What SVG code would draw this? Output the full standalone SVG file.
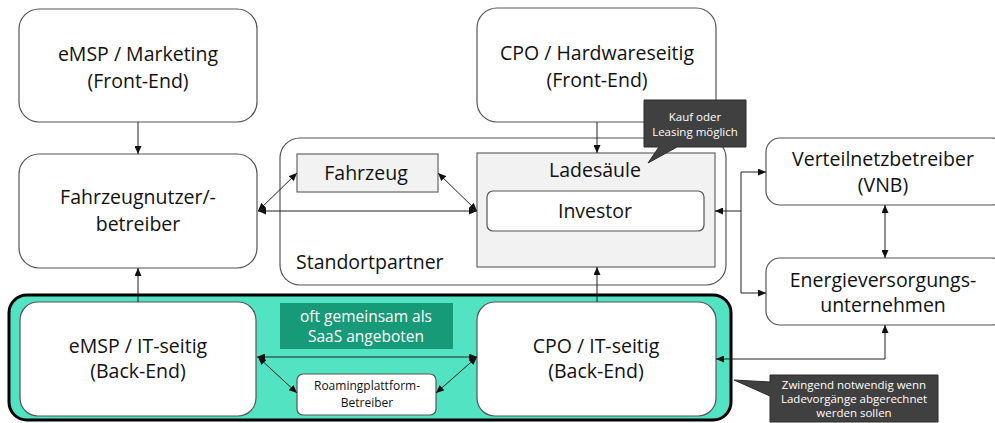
<svg xmlns="http://www.w3.org/2000/svg" width="995" height="423" viewBox="0 0 995 423">
  <style>
    .box { fill: #ffffff; stroke: #555555; stroke-width: 1.2; }
    .grey { fill: #f2f2f2; stroke: #666666; stroke-width: 1.2; }
    .lbl { font-family: "Open Sans", "Noto Sans", sans-serif; font-size: 19.5px; fill: #111111; text-anchor: middle; }
    .inv { font-family: "Open Sans", "Noto Sans", sans-serif; font-size: 15.5px; fill: #ffffff; text-anchor: middle; }
    .roam { font-family: "Open Sans", "Noto Sans", sans-serif; font-size: 12px; fill: #111111; text-anchor: middle; }
    .small { font-family: "Open Sans", "Noto Sans", sans-serif; font-size: 11.5px; fill: #ffffff; text-anchor: middle; }
    .line { fill: none; stroke: #222222; stroke-width: 1; }
    .tip { fill: #404040; stroke: #2a2a2a; stroke-width: 1; }
  </style>
  <defs>
    <marker id="arr" viewBox="0 0 8 7" refX="8" refY="3.5" markerUnits="userSpaceOnUse" markerWidth="8" markerHeight="7" orient="auto-start-reverse">
      <path d="M0,0 L8,3.5 L0,7 z" fill="#111111"/>
    </marker>
  </defs>

  <!-- Standortpartner container -->
  <g id="standortpartner">
    <rect x="280" y="138" width="446" height="147" rx="20" class="box"/>
    <text x="296" y="269" class="lbl" style="text-anchor:start">Standortpartner</text>
  </g>

  <!-- Back-end group -->
  <g id="backend-group">
    <rect x="9" y="295" width="722" height="125" rx="18" fill="#52e4c2" stroke="#000000" stroke-width="3"/>
  </g>

  <g id="emsp-marketing">
    <rect x="19" y="9" width="238" height="113" rx="20" class="box"/>
    <text x="138" y="61" class="lbl">eMSP / Marketing</text>
    <text x="138" y="88" class="lbl">(Front-End)</text>
  </g>

  <g id="cpo-hardware">
    <rect x="477" y="8" width="239" height="114" rx="20" class="box"/>
    <text x="597" y="60" class="lbl">CPO / Hardwareseitig</text>
    <text x="597" y="87" class="lbl">(Front-End)</text>
  </g>

  <g id="fahrzeugnutzer">
    <rect x="19" y="154" width="238" height="114" rx="20" class="box"/>
    <text x="138" y="204" class="lbl">Fahrzeugnutzer/-</text>
    <text x="138" y="231" class="lbl">betreiber</text>
  </g>

  <g id="fahrzeug">
    <rect x="297" y="154" width="141" height="38" class="grey"/>
    <text x="366" y="180" class="lbl">Fahrzeug</text>
  </g>

  <g id="ladesaeule">
    <rect x="477" y="153" width="238" height="114" class="grey"/>
    <text x="595" y="177" class="lbl">Ladesäule</text>
  </g>

  <g id="investor">
    <rect x="487" y="191" width="217" height="40" rx="6" class="box"/>
    <text x="595" y="218" class="lbl">Investor</text>
  </g>

  <g id="vnb">
    <rect x="766" y="138" width="240" height="67" rx="14" class="box"/>
    <text x="883" y="166" class="lbl">Verteilnetzbetreiber</text>
    <text x="883" y="192" class="lbl">(VNB)</text>
  </g>

  <g id="evu">
    <rect x="766" y="258" width="240" height="67" rx="14" class="box"/>
    <text x="883" y="287" class="lbl">Energieversorgungs-</text>
    <text x="883" y="312" class="lbl">unternehmen</text>
  </g>

  <g id="emsp-it">
    <rect x="20" y="302" width="236" height="114" rx="18" class="box"/>
    <text x="138" y="353" class="lbl">eMSP / IT-seitig</text>
    <text x="138" y="378" class="lbl">(Back-End)</text>
  </g>

  <g id="cpo-it">
    <rect x="477" y="302" width="239" height="114" rx="18" class="box"/>
    <text x="596" y="353" class="lbl">CPO / IT-seitig</text>
    <text x="596" y="378" class="lbl">(Back-End)</text>
  </g>

  <g id="saas">
    <rect x="280" y="303" width="173" height="46" fill="#169a78"/>
    <text x="366" y="322" class="inv">oft gemeinsam als</text>
    <text x="366" y="342" class="inv">SaaS angeboten</text>
  </g>

  <g id="roaming">
    <rect x="297" y="374" width="139" height="41" rx="6" class="box"/>
    <text x="367" y="390" class="roam">Roamingplattform-</text>
    <text x="367" y="407" class="roam">Betreiber</text>
  </g>

  <!-- Connectors -->
  <g id="connectors" class="line">
    <path d="M138,122 V154" marker-end="url(#arr)"/>
    <path d="M138,302 V268" marker-end="url(#arr)"/>
    <path d="M597,122 V153" marker-end="url(#arr)"/>
    <path d="M597,302 V267" marker-end="url(#arr)"/>
    <path d="M258,211 H477" marker-start="url(#arr)" marker-end="url(#arr)"/>
    <path d="M258,211 L297,173" marker-start="url(#arr)" marker-end="url(#arr)"/>
    <path d="M438,173 L477,211" marker-start="url(#arr)" marker-end="url(#arr)"/>
    <path d="M741,211 H715" marker-end="url(#arr)"/>
    <path d="M766,172 H741 V293 H766" marker-start="url(#arr)" marker-end="url(#arr)"/>
    <path d="M885,205 V258" marker-start="url(#arr)" marker-end="url(#arr)"/>
    <path d="M885,325 V359 H716" marker-start="url(#arr)" marker-end="url(#arr)"/>
    <path d="M257,357 H477" marker-start="url(#arr)" marker-end="url(#arr)"/>
    <path d="M258,357 L297,393" marker-start="url(#arr)" marker-end="url(#arr)"/>
    <path d="M436,393 L477,357" marker-start="url(#arr)" marker-end="url(#arr)"/>
  </g>

  <!-- Callouts -->
  <g id="callout-kauf">
    <path d="M644,100 H746 V147 H677 L648,163 L659,147 H644 Z" class="tip"/>
    <text x="695" y="121" class="small">Kauf oder</text>
    <text x="695" y="136" class="small">Leasing möglich</text>
  </g>

  <g id="callout-zwingend">
    <path d="M770,375 H938 V422 H770 V396 L734,380 L770,382 Z" class="tip"/>
    <text x="854" y="389" class="small">Zwingend notwendig wenn</text>
    <text x="854" y="403" class="small">Ladevorgänge abgerechnet</text>
    <text x="854" y="417" class="small">werden sollen</text>
  </g>
</svg>
